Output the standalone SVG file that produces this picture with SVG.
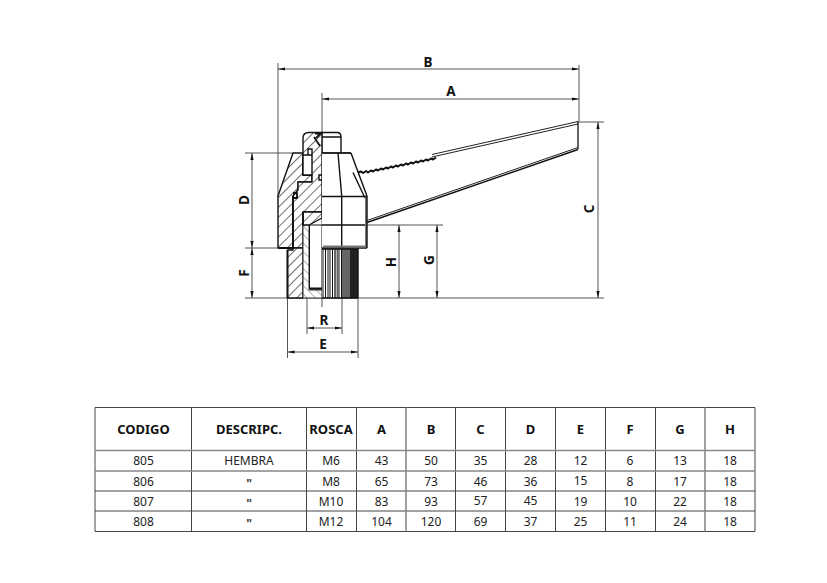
<svg xmlns="http://www.w3.org/2000/svg" width="827" height="583" viewBox="0 0 827 583">
<style>
.dim{fill:none;stroke:#555;stroke-width:1}
.ends{fill:none;stroke:#555;stroke-width:1;marker-start:url(#a);marker-end:url(#a)}
.ob{fill:none;stroke:#111;stroke-width:1.4;stroke-linejoin:round}
.hv{fill:none;stroke:#111;stroke-width:1.800;stroke-linejoin:round}
.th{fill:none;stroke:#222;stroke-width:1}
.h{fill:url(#hatch);stroke:#111;stroke-width:1.4;stroke-linejoin:round}
.lab{font:bold 13.500px "Noto Sans","DejaVu Sans",sans-serif;fill:#111;text-anchor:middle}
.hd{font:bold 13px "Noto Sans","DejaVu Sans",sans-serif;fill:#111;text-anchor:middle}
.td{font:12px "Noto Sans","DejaVu Sans",sans-serif;fill:#222;text-anchor:middle}
.q{font:bold 12px "Noto Sans","DejaVu Sans",sans-serif;fill:#444;text-anchor:middle}
.g{fill:none;stroke:#444;stroke-width:1}
.g2{fill:none;stroke:#888;stroke-width:1.6}
</style>
<defs>
<marker id="a" viewBox="0 0 8 4" refX="7" refY="2" markerWidth="8" markerHeight="4" markerUnits="userSpaceOnUse" orient="auto-start-reverse"><path d="M7 2L0 .4V3.6Z" fill="#111"/></marker>
<pattern id="hatch" width="7" height="7" patternUnits="userSpaceOnUse" patternTransform="rotate(45)"><rect width="7" height="7" fill="#fff"/><line x1="0" y1="0" x2="0" y2="7" stroke="#222" stroke-width="1.300"/></pattern>
<pattern id="hatch2" width="6" height="6" patternUnits="userSpaceOnUse" patternTransform="rotate(-45)"><rect width="6" height="6" fill="#fff"/><line x1="0" y1="0" x2="0" y2="6" stroke="#555" stroke-width=".9"/></pattern>
</defs>

<g id="dimension-lines">
<path class="dim" d="M278 63V197M322 93V307M579 65V122M578 122H604M367 225H443M245 298H604M245 153H293M245 248H290M287.500 298V358M358 298V358M307 298V334M342 298V334"/>
<line class="ends" x1="278" y1="69" x2="579" y2="69"/>
<line class="ends" x1="322" y1="99" x2="579" y2="99"/>
<line class="ends" x1="598" y1="122" x2="598" y2="298"/>
<line class="ends" x1="399" y1="225" x2="399" y2="298"/>
<line class="ends" x1="437" y1="225" x2="437" y2="298"/>
<line class="ends" x1="252" y1="153" x2="252" y2="248"/>
<line class="ends" x1="252" y1="248" x2="252" y2="298"/>
<line class="ends" x1="307" y1="328" x2="342" y2="328"/>
<line class="ends" x1="287.500" y1="352" x2="358" y2="352"/>
</g>

<g id="section">
<path class="h" d="M293 153H303V175H312V182H298V190L293 196V248H278V196Z"/>
<path class="h" d="M303 153V138Q303 132.500 309 132.500H322V212H303V248H293V196L298 190V182H312V175H303V155Z"/>
<path fill="#fff" stroke="#111" stroke-width="1.400" d="M303 155H312V175H303ZM308 149H312V155H308ZM319 175H322V180H319Z"/>
<path class="h" d="M287.500 250H293V248H303V298H287.500Z"/>
<path fill="url(#hatch2)" stroke="#333" stroke-width="1" d="M303 225H309V290H322V298H303Z"/>
<path class="h" d="M303 212H322V218L309 225H303Z"/>
<path fill="#fff" stroke="#111" stroke-width="1" d="M309.500 225H322V289H309.500Z"/>
<path class="hv" d="M303 212V225M287.500 250V298M293 196V248H279M293 198h4v-5h-4M310 288.500H322"/>
<path class="hv" d="M315 133.500H322M314 137L320 146M320 134L316 138"/>
</g>

<g id="handle">
<path fill="#fff" stroke="none" d="M322 153H351L358 172L432 156L578 122V149L367 222V248H322Z"/>
<path class="ob" d="M322 132.500H337Q341 132.500 341 137V153M322 137H341"/>
<path class="hv" d="M322 153H351"/>
<path class="ob" d="M338 153L341.700 196V248M322 196.500H367M322 225H367M322 248H367"/>
<path class="ob" d="M351 153L358 172L367 196M353 172.500L365 198"/>
<path fill="none" stroke="#777" stroke-width="2" d="M366 197V247M323 246.500H366"/>
<path class="ob" d="M367 196V248"/>
<path fill="none" stroke="#111" stroke-width="2" stroke-linejoin="round" d="M358 172.500l3-1 2 1.500 3-2 2 1.500 3-2 2 1 3-2 2 1 3-2 2 1 3-2 2 1 3-2 2 1 3-2 2 1 3-2 2 1 3-2 2 1 3-2 2 1 3-2 2 1 3-2 2 1 3-2 2 1 3-2 2 1 3-2"/>
<path class="th" d="M432 154.500L578 121.500M432 157L578 124"/>
<path fill="none" stroke="#111" stroke-width="1.300" d="M578 122V149"/>
<path class="th" d="M367 220.500L578 147.500"/>
<path fill="none" stroke="#111" stroke-width="1.500" d="M367 222.500L578 149.500"/>
</g>

<g id="knurl">
<rect x="322" y="249" width="36" height="49" fill="#fff"/>
<path fill="none" stroke="#111" stroke-width="1" d="M323 249V298M325.500 249V298M328 249V298M330 249V298M332.500 249V298M339 249V298M341.500 249V298"/>
<path fill="none" stroke="#666" stroke-width="2" d="M335 249V298M337.500 249V298M343 249V298M345 249V298"/>
<path fill="none" stroke="#333" stroke-width="1.500" d="M347 249V298M349 249V298"/>
<rect x="350" y="249" width="8" height="49" fill="#222"/>
<path fill="none" stroke="#111" stroke-width="1.400" d="M322 249H358V298M322 298H358"/>
</g>

<g id="dimension-labels">
<text class="lab" x="428" y="67">B</text>
<text class="lab" x="451" y="96">A</text>
<text class="lab" x="324" y="325">R</text>
<text class="lab" x="323" y="349">E</text>
<text class="lab" transform="translate(594 209) rotate(-90)">C</text>
<text class="lab" transform="translate(249 200) rotate(-90)">D</text>
<text class="lab" transform="translate(249 273) rotate(-90)">F</text>
<text class="lab" transform="translate(396 262) rotate(-90)">H</text>
<text class="lab" transform="translate(434 260) rotate(-90)">G</text>
</g>

<g id="table">
<path class="g" d="M95 407.500H755M95 491H755M95 511H755M95 531.500H755M95 407.500V531.500M191.500 407.500V531.500M306.500 407.500V531.500M356.500 407.500V531.500M455.500 407.500V531.500M505.500 407.500V531.500M555.500 407.500V531.500M605.500 407.500V531.500M655.500 407.500V531.500M755 407.500V531.500"/>
<path class="g2" d="M95 450.500H755M95 471H755M406 407.500V531.500M705 407.500V531.500"/>
<g class="hd">
<text x="143.500" y="434">CODIGO</text><text x="249" y="434">DESCRIPC.</text><text x="331" y="434">ROSCA</text><text x="381.500" y="434">A</text><text x="431" y="434">B</text><text x="480.500" y="434">C</text><text x="530.500" y="434">D</text><text x="580.500" y="434">E</text><text x="630" y="434">F</text><text x="680" y="434">G</text><text x="730" y="434">H</text>
</g>
<g class="td">
<text x="143.500" y="465">805</text><text x="249" y="465">HEMBRA</text><text x="331" y="465">M6</text><text x="381.500" y="465">43</text><text x="431" y="465">50</text><text x="480.500" y="465">35</text><text x="530.500" y="465">28</text><text x="580.500" y="465">12</text><text x="630" y="465">6</text><text x="680" y="465">13</text><text x="730" y="465">18</text>
<text x="143.500" y="486">806</text><text class="q" x="249" y="488">"</text><text x="331" y="486">M8</text><text x="381.500" y="486">65</text><text x="431" y="486">73</text><text x="480.500" y="486">46</text><text x="530.500" y="486">36</text><text x="580.500" y="485">15</text><text x="630" y="486">8</text><text x="680" y="486">17</text><text x="730" y="486">18</text>
<text x="143.500" y="506">807</text><text class="q" x="249" y="508">"</text><text x="331" y="506">M10</text><text x="381.500" y="506">83</text><text x="431" y="506">93</text><text x="480.500" y="505">57</text><text x="530.500" y="505">45</text><text x="580.500" y="506">19</text><text x="630" y="506">10</text><text x="680" y="506">22</text><text x="730" y="506">18</text>
<text x="143.500" y="526">808</text><text class="q" x="249" y="528">"</text><text x="331" y="526">M12</text><text x="381.500" y="526">104</text><text x="431" y="526">120</text><text x="480.500" y="526">69</text><text x="530.500" y="526">37</text><text x="580.500" y="526">25</text><text x="630" y="526">11</text><text x="680" y="526">24</text><text x="730" y="526">18</text>
</g>
</g>
</svg>
